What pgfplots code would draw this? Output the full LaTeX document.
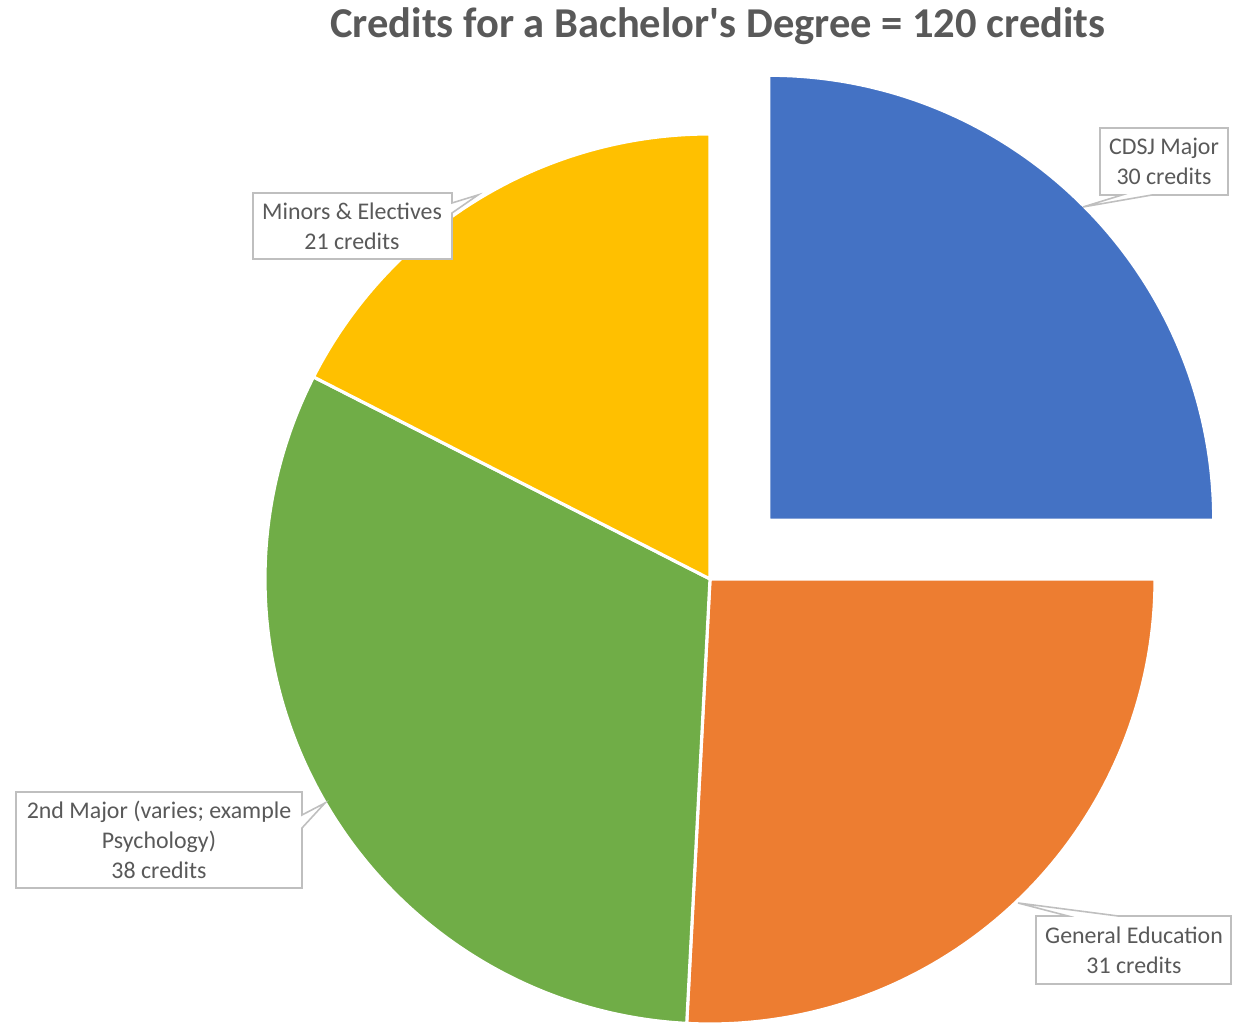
\documentclass[border=0pt]{standalone}
\usepackage{fontspec}
\setmainfont{Carlito}
\usepackage{pgfplots}
\usepackage{pgfplotstable}
\pgfplotsset{compat=1.18}
\usetikzlibrary{calc}

\definecolor{cdsj}{HTML}{4472C4}
\definecolor{gened}{HTML}{ED7D31}
\definecolor{second}{HTML}{70AD47}
\definecolor{minors}{HTML}{FFC000}
\definecolor{txt}{HTML}{595959}
\definecolor{boxline}{HTML}{BFBFBF}

% credits per part, clockwise from 12 o'clock
\pgfplotstableread{
part value
cdsj 30
gened 31
second 38
minors 21
}\credits

\begin{document}
\begin{tikzpicture}
\pgfplotstablegetelem{0}{value}\of\credits \pgfmathsetmacro\va{\pgfplotsretval}
\pgfplotstablegetelem{1}{value}\of\credits \pgfmathsetmacro\vb{\pgfplotsretval}
\pgfplotstablegetelem{2}{value}\of\credits \pgfmathsetmacro\vc{\pgfplotsretval}
\pgfplotstablegetelem{3}{value}\of\credits \pgfmathsetmacro\vd{\pgfplotsretval}
\pgfmathsetmacro\total{\va+\vb+\vc+\vd}
\pgfmathsetmacro\aA{90}
\pgfmathsetmacro\aB{\aA-360*\va/\total}
\pgfmathsetmacro\aC{\aB-360*\vb/\total}
\pgfmathsetmacro\aD{\aC-360*\vc/\total}
\pgfmathsetmacro\aE{\aD-360*\vd/\total}
\pgfmathsetmacro\midA{(\aA+\aB)/2}
\def\R{4.45cm}
\begin{axis}[
    name=pie,
    scale only axis,
    width=12.33cm, height=10.23cm,
    xmin=0, xmax=1233, ymin=0, ymax=1023,
    hide axis,
    clip=false,
]
% slices
\coordinate (C) at (axis cs:710,444);
\fill[cdsj, draw=white, line width=0.9pt]
    ($(C)+(\midA:0.83cm)$) -- ++(\aA:\R) arc[start angle=\aA, end angle=\aB, radius=\R] -- cycle;
\fill[gened, draw=white, line width=0.9pt]
    (C) -- ++(\aB:\R) arc[start angle=\aB, end angle=\aC, radius=\R] -- cycle;
\fill[second, draw=white, line width=0.9pt]
    (C) -- ++(\aC:\R) arc[start angle=\aC, end angle=\aD, radius=\R] -- cycle;
\fill[minors, draw=white, line width=0.9pt]
    (C) -- ++(\aD:\R) arc[start angle=\aD, end angle=\aE, radius=\R] -- cycle;

% callouts
\tikzset{callout/.style={fill=white, draw=boxline, line width=0.45pt, line join=miter}}
\path[callout] (axis cs:1100,895) -- (axis cs:1228,895) -- (axis cs:1228,828) -- (axis cs:1152,828)
    -- (axis cs:1083,816) -- (axis cs:1122,828) -- (axis cs:1100,828) -- cycle;
\path[callout] (axis cs:253,830) -- (axis cs:452,830) -- (axis cs:452,820) -- (axis cs:478,828)
    -- (axis cs:452,810) -- (axis cs:452,764) -- (axis cs:253,764) -- cycle;
\path[callout] (axis cs:16,231) -- (axis cs:302,231) -- (axis cs:302,208) -- (axis cs:325,220)
    -- (axis cs:302,195) -- (axis cs:302,135) -- (axis cs:16,135) -- cycle;
\path[callout] (axis cs:1036,107) -- (axis cs:1068,107) -- (axis cs:1018,120) -- (axis cs:1118,107)
    -- (axis cs:1231,107) -- (axis cs:1231,39) -- (axis cs:1036,39) -- cycle;

\tikzset{lab/.style={text=txt, align=center, font=\fontsize{6.8}{8.5}\selectfont, inner sep=0pt}}
\node[lab] at (axis cs:1164,862) {CDSJ Major\\30 credits};
\node[lab] at (axis cs:352,797) {Minors \& Electives\\21 credits};
\node[lab] at (axis cs:159,183) {2nd Major (varies; example\\Psychology)\\38 credits};
\node[lab] at (axis cs:1134,73) {General Education\\31 credits};

% title
\node[text=txt, font=\fontsize{12.1}{14}\selectfont\bfseries, inner sep=0pt]
    at (axis cs:718,997) {Credits for a Bachelor\textquotesingle s Degree = 120 credits};
\end{axis}
\pgfresetboundingbox
\path (pie.south west) rectangle (pie.north east);
\end{tikzpicture}
\end{document}
